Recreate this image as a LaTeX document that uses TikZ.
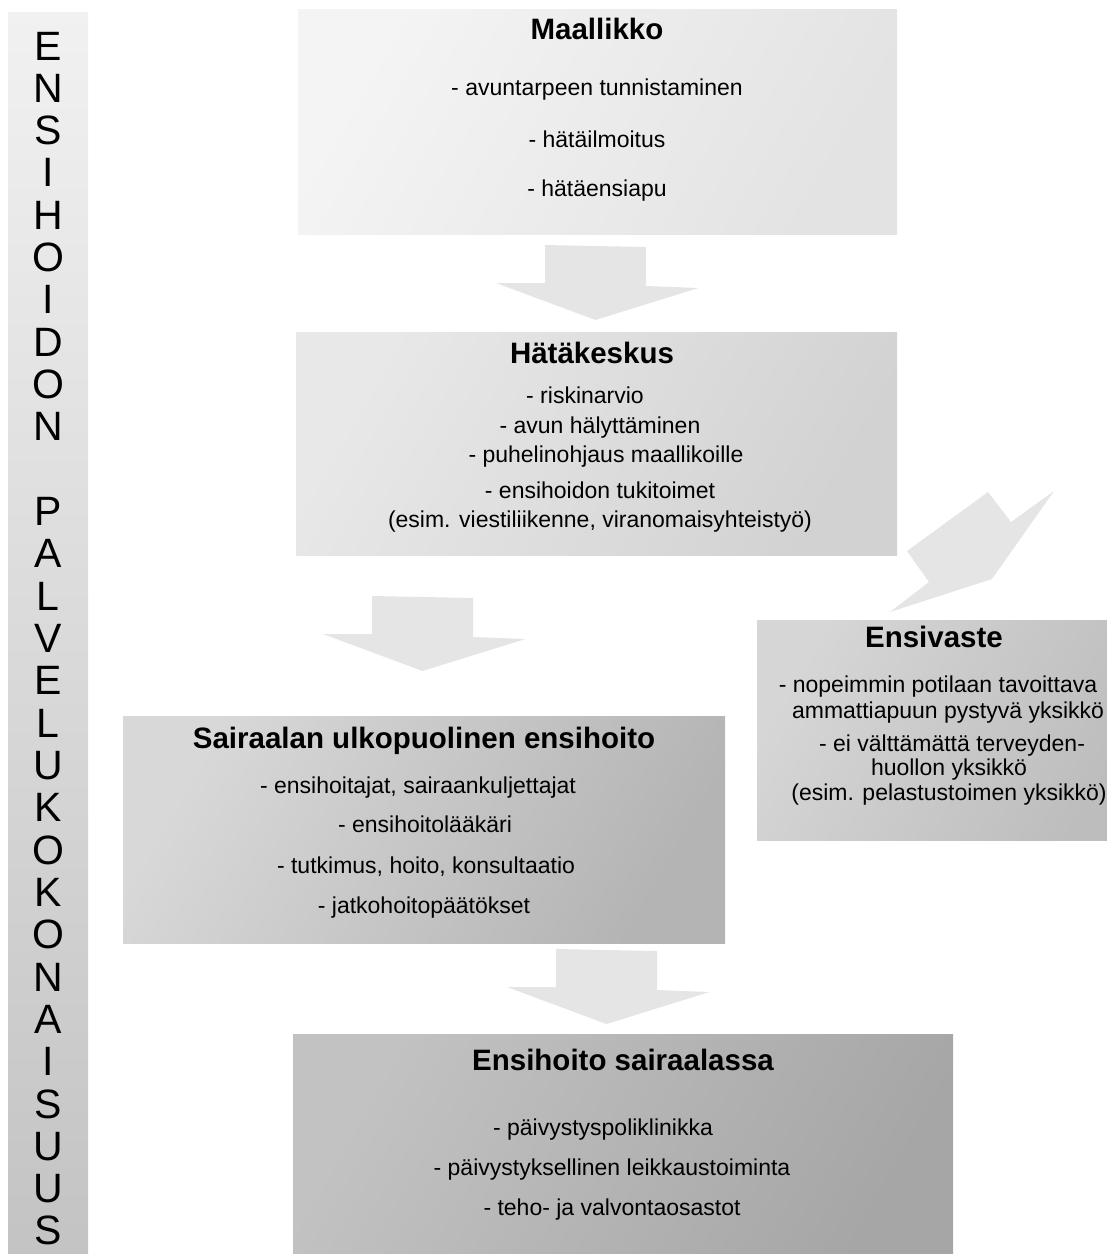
\documentclass[tikz,border=0pt]{standalone}
\usepackage{fontspec}
\setmainfont{Liberation Sans}
\definecolor{flowgray}{HTML}{E5E5E5}
\definecolor{barlight}{HTML}{F1F1F1}
\definecolor{bardark}{HTML}{C3C3C3}
\definecolor{layA}{HTML}{F4F4F4}
\definecolor{layB}{HTML}{E3E3E3}
\definecolor{callA}{HTML}{E8E8E8}
\definecolor{callB}{HTML}{D2D2D2}
\definecolor{fieldA}{HTML}{D8D8D8}
\definecolor{fieldB}{HTML}{B4B4B4}
\definecolor{firstA}{HTML}{D6D6D6}
\definecolor{firstB}{HTML}{BDBDBD}
\definecolor{hospA}{HTML}{C2C2C2}
\definecolor{hospB}{HTML}{A6A6A6}
\newcommand{\titlefont}{\fontsize{29.5}{34}\selectfont\bfseries}
\newcommand{\itemfont}{\fontsize{23}{27}\selectfont}
\newcommand{\barfont}{\fontsize{41}{44}\selectfont}
% broad down arrow: stem centre x, stem top y
\newcommand{\flowdown}[2]{%
  \fill[flow] ({#1-50.5},#2) -- ({#1+50.5},{#2+2}) -- ({#1+50.5},{#2+41})
    -- ({#1+103},{#2+43}) -- (#1,{#2+75}) -- ({#1-99.5},{#2+38})
    -- ({#1-50.5},{#2+38}) -- cycle;}
\begin{document}
\begin{tikzpicture}[x=1pt, y=-1pt,
  panel/.style 2 args={rectangle, inner sep=0pt, anchor=north west,
    top color=#1, bottom color=#2, shading angle=60},
  head/.style={anchor=base, inner sep=0pt, font=\titlefont},
  item/.style={anchor=base, inner sep=0pt, font=\itemfont},
  barletter/.style={anchor=base, inner sep=0pt, font=\barfont},
  flow/.style={fill=flowgray}]
\clip (0,0) rectangle (1107,1254);

% side bar
\node[panel={barlight}{bardark}, shading angle=0, minimum width=80pt, minimum height=1250pt] (sidebar) at (8,12) {};
\foreach \ch [count=\i from 0] in {E,N,S,I,H,O,I,D,O,N,{},P,A,L,V,E,L,U,K,O,K,O,N,A,I,S,U,U,S}
  \node[barletter] (letter\i) at (48,{60+42.32*\i}) {\ch};

% boxes
\node[panel={layA}{layB}, minimum width=599pt, minimum height=225pt] (maallikko) at (298,9) {};
\node[panel={callA}{callB}, minimum width=601pt, minimum height=223pt] (hatakeskus) at (296,332) {};
\node[panel={fieldA}{fieldB}, minimum width=602pt, minimum height=227pt] (ulkopuolinen) at (123,716) {};
\node[panel={firstA}{firstB}, minimum width=380pt, minimum height=220pt] (ensivaste) at (757,620) {};
\node[panel={hospA}{hospB}, minimum width=660pt, minimum height=230pt] (sairaala) at (293,1034) {};

% arrows
\flowdown{595.5}{245}
\flowdown{422.5}{596}
\flowdown{606.5}{949}
\fill[flow] (890,612) -- (929,582) -- (907,551) -- (988,492) -- (1011,522)
  -- (1054,491) -- (992,579) -- cycle;

% Maallikko
\node[head] (maallikkohead) at (597,39) {Maallikko};
\node[item] (maallikko1) at (597,95) {- avuntarpeen tunnistaminen};
\node[item] (maallikko2) at (597,147) {- hätäilmoitus};
\node[item] (maallikko3) at (597,196) {- hätäensiapu};

% Hätäkeskus
\node[head] (hatakeskushead) at (592,363) {Hätäkeskus};
\node[item] (hatakeskus1) at (585,403) {- riskinarvio};
\node[item] (hatakeskus2) at (600,433) {- avun hälyttäminen};
\node[item] (hatakeskus3) at (606,462) {- puhelinohjaus maallikoille};
\node[item] (hatakeskus4) at (600,498) {- ensihoidon tukitoimet};
\node[item] (hatakeskus5) at (600,527) {(esim. viestiliikenne, viranomaisyhteistyö)};

% Sairaalan ulkopuolinen ensihoito
\node[head] (ulkohead) at (424,748) {Sairaalan ulkopuolinen ensihoito};
\node[item] (ulko1) at (418,793) {- ensihoitajat, sairaankuljettajat};
\node[item] (ulko2) at (425,832) {- ensihoitolääkäri};
\node[item] (ulko3) at (426,873) {- tutkimus, hoito, konsultaatio};
\node[item] (ulko4) at (424,913) {- jatkohoitopäätökset};

% Ensivaste
\node[head] (ensivastehead) at (934,647) {Ensivaste};
\node[item] (ensivaste1) at (938,692) {- nopeimmin potilaan tavoittava};
\node[item] (ensivaste2) at (948,718) {ammattiapuun pystyvä yksikkö};
\node[item] (ensivaste3) at (952,751) {- ei välttämättä terveyden-};
\node[item] (ensivaste4) at (949,775) {huollon yksikkö};
\node[item] (ensivaste5) at (949,800) {(esim. pelastustoimen yksikkö)};

% Ensihoito sairaalassa
\node[head] (sairaalahead) at (623,1070) {Ensihoito sairaalassa};
\node[item] (sairaala1) at (603,1135) {- päivystyspoliklinikka};
\node[item] (sairaala2) at (612,1175) {- päivystyksellinen leikkaustoiminta};
\node[item] (sairaala3) at (612,1215) {- teho- ja valvontaosastot};
\end{tikzpicture}
\end{document}
